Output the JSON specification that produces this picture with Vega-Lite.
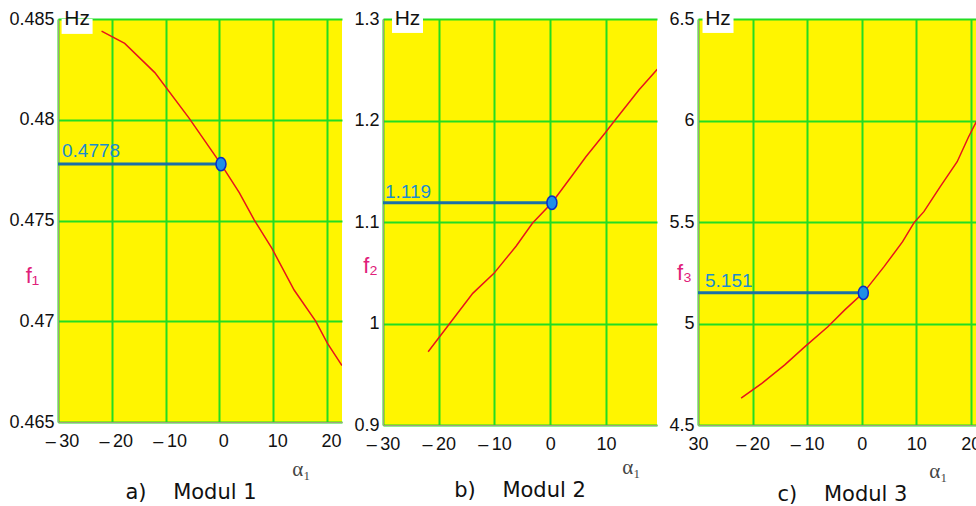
{
  "$schema": "https://vega.github.io/schema/vega-lite/v6.json",
  "padding": {"left": 8, "top": 8, "right": 0, "bottom": 0},
  "background": "white",
  "spacing": 41,
  "bounds": "flush",
  "config": {
    "view": {"fill": "#fff500", "stroke": null},
    "font": "Liberation Sans",
    "axis": {
      "grid": true, "gridColor": "#22dd22", "gridWidth": 2, "gridOpacity": 1,
      "ticks": false, "domainColor": "#a0a080", "domainWidth": 1,
      "labelFont": "Liberation Sans", "labelFontSize": 18, "labelColor": "#111",
      "labelFlush": false, "labelOverlap": false
    },
    "axisX": {
      "labelAlign": "center", "labelBaseline": "top", "labelPadding": 10,
      "titleFont": "Liberation Serif", "titleFontSize": 21, "titleColor": "#444",
      "titleFontWeight": "normal", "titleAlign": "center", "titleBaseline": "middle"
    },
    "axisY": {
      "labelPadding": 4, "labelBaseline": "middle",
      "titleAngle": 0, "titleAlign": "center", "titleBaseline": "middle",
      "titleColor": "#e0207a", "titleFontSize": 22, "titleFontWeight": "normal",
      "titleFont": "Liberation Sans"
    },
    "title": {"font": "DejaVu Sans", "fontSize": 21, "fontWeight": "normal", "color": "#111", "anchor": "middle"}
  },
  "datasets": {
    "p1": [
      {"alpha": -21.9, "f": 0.4844}, {"alpha": -17.6, "f": 0.48379}, {"alpha": -12.0, "f": 0.48234},
      {"alpha": -5.6, "f": 0.48007}, {"alpha": 0.3, "f": 0.4778}, {"alpha": 3.7, "f": 0.47638},
      {"alpha": 6.5, "f": 0.47502}, {"alpha": 9.8, "f": 0.4736}, {"alpha": 13.9, "f": 0.47155},
      {"alpha": 17.9, "f": 0.47001}, {"alpha": 20.1, "f": 0.4689}, {"alpha": 22.8, "f": 0.4678}
    ],
    "m1": [{"alpha": 0.3, "f": 0.4778, "label": "0.4778"}],
    "p2": [
      {"alpha": -21.9, "f": 0.9722}, {"alpha": -18.0, "f": 1.0002}, {"alpha": -13.9, "f": 1.0297},
      {"alpha": -10.1, "f": 1.0494}, {"alpha": -6.1, "f": 1.0764}, {"alpha": -3.2, "f": 1.0987},
      {"alpha": 0.3, "f": 1.119}, {"alpha": 4.0, "f": 1.1463}, {"alpha": 6.4, "f": 1.1643},
      {"alpha": 9.8, "f": 1.1874}, {"alpha": 11.4, "f": 1.1988}, {"alpha": 15.9, "f": 1.23},
      {"alpha": 19.2, "f": 1.2505}
    ],
    "m2": [{"alpha": 0.3, "f": 1.119, "label": "1.119"}],
    "p3": [
      {"alpha": -22.1, "f": 4.632}, {"alpha": -18.3, "f": 4.705}, {"alpha": -14.1, "f": 4.796},
      {"alpha": -10.4, "f": 4.886}, {"alpha": -6.2, "f": 4.984}, {"alpha": -3.1, "f": 5.067},
      {"alpha": 0.3, "f": 5.151}, {"alpha": 4.1, "f": 5.28}, {"alpha": 7.5, "f": 5.403},
      {"alpha": 9.6, "f": 5.497}, {"alpha": 11.4, "f": 5.551}, {"alpha": 14.4, "f": 5.674},
      {"alpha": 17.5, "f": 5.797}, {"alpha": 19.6, "f": 5.92}, {"alpha": 21.5, "f": 6.02}
    ],
    "m3": [{"alpha": 0.3, "f": 5.151, "label": "5.151"}]
  },
  "hconcat": [
    {
      "width": 284, "height": 403,
      "title": {"text": "a)\u00a0\u00a0\u00a0\u00a0Modul 1", "orient": "bottom", "offset": 3, "dx": -9},
      "layer": [
        {
          "data": {"name": "p1"},
          "mark": {"type": "line", "color": "#e8141c", "strokeWidth": 1.5, "clip": true},
          "encoding": {
            "x": {"field": "alpha", "type": "quantitative", "scale": {"domain": [-30, 22.8], "nice": false, "zero": false},
                  "axis": {"title": "α₁", "titleX": 243, "titleY": 47, "values": [-30, -20, -10, 0, 10, 20], "labelOffset": 4,
                           "labelExpr": "datum.value < 0 ? '\u2013\u2009' + abs(datum.value) : datum.label"}},
            "y": {"field": "f", "type": "quantitative", "scale": {"domain": [0.465, 0.485], "nice": false, "zero": false},
                  "axis": {"title": "f₁", "titleX": -26, "titleY": 256, "values": [0.465, 0.47, 0.475, 0.48, 0.485], "format": "~g"}}
          }
        },
        {
          "data": {"name": "m1"},
          "mark": {"type": "rule", "color": "#1b6fa8", "strokeWidth": 3},
          "encoding": {"x": {"field": "alpha", "type": "quantitative"}, "x2": {"datum": -30}, "y": {"field": "f", "type": "quantitative"}}
        },
        {
          "data": {"name": "m1"},
          "mark": {"type": "point", "filled": true, "shape": "M-0.75,0A0.75,1,0,1,1,0.75,0A0.75,1,0,1,1,-0.75,0Z", "size": 178, "fill": "#1e8fe6", "stroke": "#0a2cc8", "strokeWidth": 1.5, "opacity": 1},
          "encoding": {"x": {"field": "alpha", "type": "quantitative"}, "y": {"field": "f", "type": "quantitative"}}
        },
        {
          "data": {"name": "m1"},
          "mark": {"type": "text", "align": "left", "baseline": "alphabetic", "dx": 4, "dy": -7, "color": "#1a8cd0", "fontSize": 19, "font": "Liberation Sans"},
          "encoding": {"x": {"datum": -30, "type": "quantitative"}, "y": {"field": "f", "type": "quantitative"}, "text": {"field": "label", "type": "nominal"}}
        },
        {
          "data": {"name": "m1"},
          "mark": {"type": "point", "filled": true, "shape": "M-1,-0.48H1V0.48H-1Z", "size": 961, "fill": "white", "stroke": null, "opacity": 1},
          "encoding": {"x": {"datum": -26.45, "type": "quantitative"}, "y": {"datum": 0.48463, "type": "quantitative"}}
        },
        {
          "data": {"name": "m1"},
          "mark": {"type": "text", "align": "center", "baseline": "middle", "color": "#111", "fontSize": 21, "font": "Liberation Sans", "text": "Hz"},
          "encoding": {"x": {"datum": -26.45, "type": "quantitative"}, "y": {"datum": 0.485, "type": "quantitative"}}
        }
      ]
    },
    {
      "width": 274, "height": 406,
      "title": {"text": "b)\u00a0\u00a0\u00a0\u00a0Modul 2", "orient": "bottom", "offset": 3},
      "layer": [
        {
          "data": {"name": "p2"},
          "mark": {"type": "line", "color": "#e8141c", "strokeWidth": 1.5, "clip": true},
          "encoding": {
            "x": {"field": "alpha", "type": "quantitative", "scale": {"domain": [-30, 19.15], "nice": false, "zero": false},
                  "axis": {"title": "α₁", "titleX": 248, "titleY": 42, "values": [-30, -20, -10, 0, 10],
                           "labelExpr": "datum.value < 0 ? '\u2013\u2009' + abs(datum.value) : datum.label"}},
            "y": {"field": "f", "type": "quantitative", "scale": {"domain": [0.9, 1.3], "nice": false, "zero": false},
                  "axis": {"title": "f₂", "titleX": -13, "titleY": 246, "values": [0.9, 1.0, 1.1, 1.2, 1.3], "format": "~g"}}
          }
        },
        {
          "data": {"name": "m2"},
          "mark": {"type": "rule", "color": "#1b6fa8", "strokeWidth": 3},
          "encoding": {"x": {"field": "alpha", "type": "quantitative"}, "x2": {"datum": -30}, "y": {"field": "f", "type": "quantitative"}}
        },
        {
          "data": {"name": "m2"},
          "mark": {"type": "point", "filled": true, "shape": "M-0.75,0A0.75,1,0,1,1,0.75,0A0.75,1,0,1,1,-0.75,0Z", "size": 178, "fill": "#1e8fe6", "stroke": "#0a2cc8", "strokeWidth": 1.5, "opacity": 1},
          "encoding": {"x": {"field": "alpha", "type": "quantitative"}, "y": {"field": "f", "type": "quantitative"}}
        },
        {
          "data": {"name": "m2"},
          "mark": {"type": "text", "align": "left", "baseline": "alphabetic", "dx": 2, "dy": -5, "color": "#1a8cd0", "fontSize": 19, "font": "Liberation Sans"},
          "encoding": {"x": {"datum": -30, "type": "quantitative"}, "y": {"field": "f", "type": "quantitative"}, "text": {"field": "label", "type": "nominal"}}
        },
        {
          "data": {"name": "m2"},
          "mark": {"type": "point", "filled": true, "shape": "M-1,-0.48H1V0.48H-1Z", "size": 961, "fill": "white", "stroke": null, "opacity": 1},
          "encoding": {"x": {"datum": -25.6, "type": "quantitative"}, "y": {"datum": 1.2936, "type": "quantitative"}}
        },
        {
          "data": {"name": "m2"},
          "mark": {"type": "text", "align": "center", "baseline": "middle", "color": "#111", "fontSize": 21, "font": "Liberation Sans", "text": "Hz"},
          "encoding": {"x": {"datum": -25.6, "type": "quantitative"}, "y": {"datum": 1.3, "type": "quantitative"}}
        }
      ]
    },
    {
      "width": 281, "height": 406,
      "title": {"text": "c)\u00a0\u00a0\u00a0\u00a0Modul 3", "orient": "bottom", "offset": 3, "dx": 4},
      "layer": [
        {
          "data": {"name": "p3"},
          "mark": {"type": "line", "color": "#e8141c", "strokeWidth": 1.5, "clip": true},
          "encoding": {
            "x": {"field": "alpha", "type": "quantitative", "scale": {"domain": [-30, 21.5], "nice": false, "zero": false},
                  "axis": {"title": "α₁", "titleX": 240, "titleY": 46, "values": [-30, -20, -10, 0, 10, 20],
                           "labelExpr": "datum.value == -30 ? '30' : datum.value < 0 ? '\u2013\u2009' + abs(datum.value) : datum.label"}},
            "y": {"field": "f", "type": "quantitative", "scale": {"domain": [4.5, 6.5], "nice": false, "zero": false},
                  "axis": {"title": "f₃", "titleX": -14, "titleY": 253, "values": [4.5, 5, 5.5, 6, 6.5], "format": "~g"}}
          }
        },
        {
          "data": {"name": "m3"},
          "mark": {"type": "rule", "color": "#1b6fa8", "strokeWidth": 3},
          "encoding": {"x": {"field": "alpha", "type": "quantitative"}, "x2": {"datum": -30}, "y": {"field": "f", "type": "quantitative"}}
        },
        {
          "data": {"name": "m3"},
          "mark": {"type": "point", "filled": true, "shape": "M-0.75,0A0.75,1,0,1,1,0.75,0A0.75,1,0,1,1,-0.75,0Z", "size": 178, "fill": "#1e8fe6", "stroke": "#0a2cc8", "strokeWidth": 1.5, "opacity": 1},
          "encoding": {"x": {"field": "alpha", "type": "quantitative"}, "y": {"field": "f", "type": "quantitative"}}
        },
        {
          "data": {"name": "m3"},
          "mark": {"type": "text", "align": "left", "baseline": "alphabetic", "dx": 7, "dy": -6, "color": "#1a8cd0", "fontSize": 19, "font": "Liberation Sans"},
          "encoding": {"x": {"datum": -30, "type": "quantitative"}, "y": {"field": "f", "type": "quantitative"}, "text": {"field": "label", "type": "nominal"}}
        },
        {
          "data": {"name": "m3"},
          "mark": {"type": "point", "filled": true, "shape": "M-1,-0.48H1V0.48H-1Z", "size": 961, "fill": "white", "stroke": null, "opacity": 1},
          "encoding": {"x": {"datum": -26.33, "type": "quantitative"}, "y": {"datum": 6.468, "type": "quantitative"}}
        },
        {
          "data": {"name": "m3"},
          "mark": {"type": "text", "align": "center", "baseline": "middle", "color": "#111", "fontSize": 21, "font": "Liberation Sans", "text": "Hz"},
          "encoding": {"x": {"datum": -26.33, "type": "quantitative"}, "y": {"datum": 6.5, "type": "quantitative"}}
        }
      ]
    }
  ]
}
